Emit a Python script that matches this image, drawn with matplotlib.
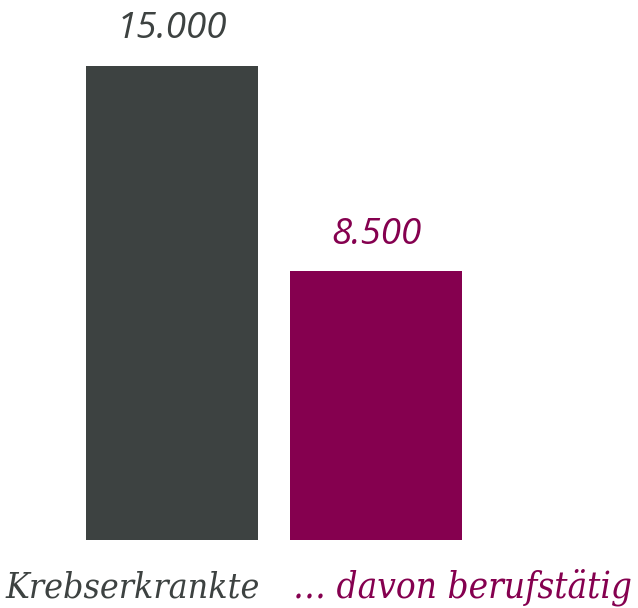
import matplotlib
matplotlib.use("Agg")
import matplotlib.pyplot as plt

categories = ["Krebserkrankte", "… davon berufstätig"]
values = [15000, 8500]
value_labels = ["15.000", "8.500"]
colors = ["#3d4241", "#85004f"]

W, H = 638, 608
fig = plt.figure(figsize=(W / 100, H / 100), dpi=100)
ax = fig.add_axes([0, 68 / H, 1, 474 / H])
ax.set_xlim(-172 / 204, (W - 172) / 204)
ax.set_ylim(0, 15000)
ax.axis("off")

x = [0, 1]
ax.bar(x, values, width=172 / 204, color=colors)

for xi, v, lab, c in zip(x, values, value_labels, colors):
    ax.annotate(lab, (xi, v), xytext=(0, 20), textcoords="offset points",
                ha="center", va="baseline", fontsize=26.5, fontstyle="italic",
                family="Open Sans", color=c)

half = 0.5 * 172 / 204
serif = ["DejaVu Serif Condensed", "DejaVu Serif"]
ax.annotate(categories[0], (x[0] + half, 0), xytext=(1.5, -41.5), textcoords="offset points",
            ha="right", va="baseline", fontsize=25.6, fontstyle="italic", fontstretch="condensed",
            family=serif, color=colors[0], annotation_clip=False)
ax.annotate(categories[1], (x[1] - half, 0), xytext=(2, -41.5), textcoords="offset points",
            ha="left", va="baseline", fontsize=26.4, fontstyle="italic", fontstretch="condensed",
            family=serif, color=colors[1], annotation_clip=False)

fig.savefig("out.png", dpi=100)
